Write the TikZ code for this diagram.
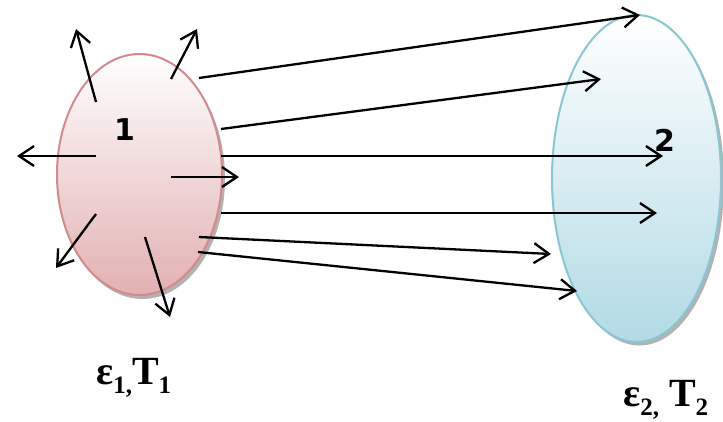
\documentclass[tikz,border=0pt]{standalone}
\usepackage{fontspec}
\setmainfont{Liberation Serif}
\newfontfamily\digitfont{DejaVu Sans}
\usetikzlibrary{shapes.geometric,arrows.meta}
\newcommand{\lowsub}[1]{\raisebox{-9pt}{\fontsize{25}{25}\selectfont #1}}
\definecolor{pinkedge}{RGB}{210,138,140}
\definecolor{pinkbot}{RGB}{226,176,178}
\definecolor{blueedge}{RGB}{136,198,212}
\definecolor{bluebot}{RGB}{178,218,229}
\begin{document}
\begin{tikzpicture}[x=1pt,y=-1pt,
  ray/.style={line width=2.3pt,-{Straight Barb[length=15pt,width=20pt,line width=2.3pt]}},
  blob/.style={ellipse,inner sep=0pt,line width=2pt},
  shade/.style={ellipse,inner sep=0pt,fill=black,opacity=0.3},
  numlab/.style={font=\digitfont\bfseries\fontsize{30}{30}\selectfont,inner sep=0pt},
  symlab/.style={anchor=base west,inner sep=0pt,font=\bfseries\fontsize{40}{40}\selectfont}]
\useasboundingbox (0,0) rectangle (723,421);
% shadows
\node[shade,minimum width=165pt,minimum height=241pt] (s1) at (142.5,178.5) {};
\node[shade,minimum width=169pt,minimum height=327pt] (s2) at (639.5,182) {};
% bodies
\node[blob,draw=pinkedge,top color=white,bottom color=pinkbot,minimum width=165pt,minimum height=241pt] (e1) at (139.5,174.5) {};
\node[blob,draw=blueedge,top color=white,bottom color=bluebot,minimum width=169pt,minimum height=327pt] (e2) at (636.5,178.5) {};
% labels
\node[numlab] (n1) at (124.5,130) {1};
\node[numlab] (n2) at (664.5,140) {2};
\node[symlab] (l1) at (96,384) {ε\lowsub{1,}T\lowsub{1}};
\node[symlab] (l2) at (623,406) {ε\lowsub{2,} T\lowsub{2}};
% coordinates
\coordinate (a1s) at (96,102);  \coordinate (a1e) at (76,29);
\coordinate (a2s) at (171,79);  \coordinate (a2e) at (197,29);
\coordinate (a3s) at (96,156);  \coordinate (a3e) at (17,156);
\coordinate (a4s) at (171,177); \coordinate (a4e) at (239,177);
\coordinate (a5s) at (96,214);  \coordinate (a5e) at (56,268);
\coordinate (a6s) at (145,237); \coordinate (a6e) at (170,317);
\coordinate (b1s) at (199,78);  \coordinate (b1e) at (640,15);
\coordinate (b2s) at (221,129); \coordinate (b2e) at (601,79);
\coordinate (b3s) at (221,156); \coordinate (b3e) at (663,156);
\coordinate (b4s) at (221,213); \coordinate (b4e) at (657,213);
\coordinate (b5s) at (199,237); \coordinate (b5e) at (551,254);
\coordinate (b6s) at (198,252); \coordinate (b6e) at (577,291);
% rays
\foreach \r in {a1,a2,a3,a4,a5,a6,b1,b2,b3,b4,b5,b6}
  \draw[ray] (\r s) -- (\r e);
\end{tikzpicture}
\end{document}
